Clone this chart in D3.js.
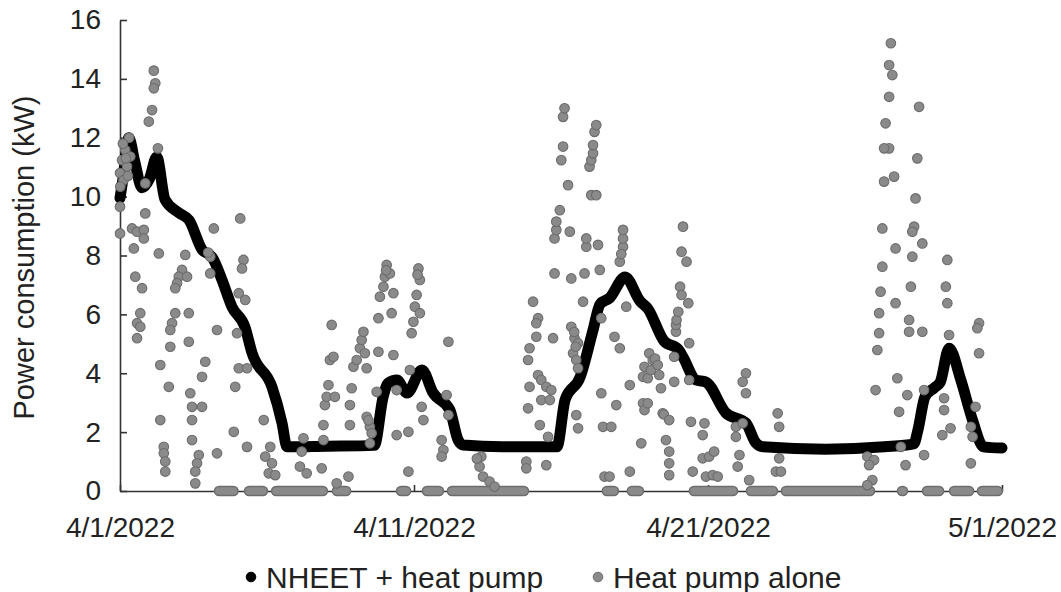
<!DOCTYPE html>
<html>
<head>
<meta charset="utf-8">
<script src="https://cdn.jsdelivr.net/npm/d3@7"></script>
<style>
  body { margin: 0; background: #fff; }
  text { font-family: "Liberation Sans", Arial, sans-serif; fill: #222; }
</style>
</head>
<body>
<svg id="chart" width="1061" height="592"></svg>
<script>
// ---- data -------------------------------------------------------------
// x values are days elapsed since 4/1/2022 00:00, y values are kW
const xTickDays = [0, 10, 20, 30];
const xTickLabels = ["4/1/2022", "4/11/2022", "4/21/2022", "5/1/2022"];
const yTicks = [0, 2, 4, 6, 8, 10, 12, 14, 16];
const seriesNames = ["NHEET + heat pump", "Heat pump alone"];

// NHEET + heat pump (dense hourly trace)
const nheetDay = [0, 0.1, 0.3, 0.5, 0.75, 1.0, 1.25, 1.53, 2.0, 2.35, 2.79, 3.13, 3.47, 3.81, 4.25, 4.49,
  5.17, 5.51, 5.68, 7.0, 8.65, 8.95, 9.12, 9.42, 9.76, 10.27, 10.65, 11.22, 11.5, 11.67, 13.0, 14.86,
  15.14, 15.65, 16.09, 16.33, 16.65, 17.18, 17.69, 17.95, 18.5, 19.0, 19.15, 19.59, 19.93, 20.61, 21.29,
  21.63, 21.87, 24.0, 26.0, 27.0, 27.14, 27.38, 27.69, 27.9, 28.2, 28.6, 29.0, 29.37, 30.0];
const nheetKW = [9.95, 10.6, 12.0, 11.2, 10.3, 10.6, 11.35, 9.9, 9.45, 9.2, 8.2, 7.95, 7.17, 6.25, 5.57, 4.69,
  3.53, 2.31, 1.5, 1.52, 1.55, 3.2, 3.67, 3.77, 3.33, 4.11, 3.33, 2.75, 1.73, 1.56, 1.5, 1.5,
  3.1, 3.87, 5.47, 6.35, 6.55, 7.27, 6.45, 6.2, 5.1, 4.8, 4.55, 3.77, 3.7, 2.65, 2.31,
  1.63, 1.5, 1.42, 1.5, 1.6, 2.07, 3.2, 3.5, 3.7, 4.85, 3.77, 2.4, 1.5, 1.46];

// Heat pump alone: hourly readings above zero [day, kW]
const pumpReadings = [
  [1.15,14.28],[1.2,13.85],[1.15,13.68],[1.09,12.94],[0.98,12.55],[1.29,11.64],[0.31,12.0],[0.18,11.58],
  [0.07,11.24],[0.24,11.02],[0.0,10.8],[0.35,11.36],[0.12,10.56],[0.01,10.34],[0.0,9.66],[0.1,11.8],
  [0.2,11.3],[0.27,10.7],[0.86,10.45],[0.86,9.43],[0.0,8.75],[0.41,8.92],[0.58,8.81],[0.81,8.87],
  [0.81,8.58],[0.47,8.24],[1.32,8.07],[0.52,7.28],[0.75,6.89],[0.69,6.04],[0.58,5.7],[0.69,5.58],
  [0.58,5.19],[1.37,4.28],[1.66,3.54],[1.37,2.41],[1.49,1.5],[1.49,1.28],[1.54,1.0],[1.54,0.66],
  [2.22,8.02],[2.11,7.51],[2.0,7.28],[1.94,7.06],[1.88,6.89],[2.28,7.28],[1.88,6.04],[1.77,5.7],
  [1.71,5.47],[2.34,6.04],[2.34,5.07],[1.71,4.9],[2.39,3.32],[2.45,2.86],[2.79,2.86],[2.45,2.41],
  [2.9,4.39],[2.79,3.88],[2.45,1.73],[2.68,1.22],[2.62,0.94],[2.56,0.66],[2.56,0.26],
  [3.19,8.92],[3.07,7.96],[3.07,7.39],[3.0,8.1],[3.3,5.47],[3.3,1.28],
  [4.09,9.26],[4.2,7.85],[4.15,7.56],[4.04,6.72],[4.26,6.49],[3.98,5.36],[4.04,4.17],[4.32,4.17],
  [3.92,3.54],[3.87,2.01],[4.32,1.5],[4.89,2.41],[5.11,1.5],[4.94,1.17],[5.17,0.94],[5.06,0.6],[5.28,0.54],
  [6.24,1.79],[6.18,1.34],[6.12,0.83],[6.35,0.6],[6.86,0.77],[6.92,1.73],[6.92,2.24],[6.97,2.92],
  [7.03,3.2],[7.31,3.2],[7.09,3.6],[7.14,4.45],[7.26,4.56],[7.2,5.64],[7.37,0.26],[7.77,0.49],
  [7.82,2.24],[7.82,2.92],[7.88,3.49],[7.94,4.22],[8.05,4.45],[8.16,4.85],[8.22,5.13],[8.28,5.41],
  [8.33,4.68],[8.39,4.17],[8.39,2.52],[8.5,2.18],[8.56,1.96],[8.5,1.62],[8.45,2.4],[8.73,3.37],
  [8.79,4.73],[8.79,5.87],[8.84,6.6],[8.96,6.94],[9.01,7.28],[9.07,7.68],[9.18,7.39],[9.05,7.5],
  [9.3,6.72],[9.24,6.04],[9.3,4.62],[9.41,3.43],[9.41,1.9],[9.81,2.01],[9.81,0.66],[9.86,4.11],
  [9.92,5.36],[9.98,5.75],[10.03,6.26],[10.2,6.04],[10.09,6.66],[10.2,7.17],[10.15,7.56],[10.12,7.35],
  [10.26,2.86],[10.32,2.41],[11.17,5.07],[11.11,3.26],[11.17,2.58],[10.94,1.73],[11.0,1.39],[10.94,1.17],
  [12.29,1.17],[12.23,0.83],[12.35,0.49],[12.57,0.32],[12.74,0.15],[12.14,1.1],
  [13.82,1.0],[13.82,0.77],[13.88,2.81],[13.93,3.54],[13.88,4.45],[13.93,4.85],[14.05,6.43],[14.22,5.87],
  [14.16,5.7],[14.16,5.24],[14.73,5.19],[14.22,3.94],[14.33,3.77],[14.5,3.54],[14.67,3.43],[14.33,3.09],
  [14.62,3.09],[14.28,2.24],[14.56,1.84],[14.5,0.88],[14.78,7.39],[14.78,8.58],[14.84,8.87],[14.84,9.15],
  [14.96,9.54],[15.01,11.24],[15.07,11.7],[15.07,12.71],[15.12,13.0],[15.24,10.39],[15.3,8.81],[15.35,7.22],
  [15.35,5.58],[15.46,5.19],[15.58,5.02],[15.41,4.68],[15.52,4.45],[15.58,4.17],[15.5,4.9],[15.45,5.4],
  [15.52,2.58],[15.58,2.13],[15.75,6.43],[15.8,7.39],[15.86,8.3],[15.86,8.58],[15.97,11.02],[16.03,11.24],
  [16.09,11.47],[16.09,11.75],[16.14,12.2],[16.2,12.43],[16.03,10.05],[16.2,10.05],[16.26,8.36],[16.32,7.51],
  [16.37,5.87],[16.37,3.32],[16.43,2.18],[16.71,2.18],[16.48,0.49],[16.65,0.49],[16.88,2.92],[16.82,5.24],
  [17.0,4.85],[17.0,7.79],[17.11,8.3],[17.11,8.58],[17.11,8.87],[17.05,8.05],[17.22,6.26],[17.34,3.6],
  [17.34,0.66],[17.84,4.22],[17.79,3.88],[17.79,2.98],[17.84,2.75],[17.73,1.62],
  [17.95,3.83],[17.95,2.98],[18.0,4.68],[18.06,4.11],[18.12,4.45],[18.2,4.5],[18.29,4.28],[18.34,3.94],
  [18.4,3.49],[18.46,2.64],[18.5,2.6],[18.57,1.73],[18.68,2.41],[18.68,1.34],[18.68,0.94],[18.68,0.54],
  [18.85,4.56],[18.85,3.71],[18.91,5.41],[18.91,5.64],[18.93,5.81],[18.99,6.09],[19.05,6.94],[19.1,6.66],
  [19.1,8.13],[19.15,8.98],[19.27,7.79],[19.33,6.38],[19.36,5.02],[19.36,3.77],[19.42,2.35],[19.48,0.66],
  [19.82,1.9],[19.88,2.3],[19.82,1.11],[20.04,1.17],[20.21,1.34],[19.93,0.49],[20.16,0.54],[20.33,0.49],
  [20.95,2.18],[20.95,1.84],[21.18,2.3],[21.07,1.22],[21.01,0.83],[21.4,0.37],[21.29,4.0],[21.18,3.71],
  [21.29,3.32],[22.37,2.64],[22.42,2.18],[22.42,1.11],[22.31,0.66],[22.48,0.66],
  [25.42,1.17],[25.65,1.05],[25.48,0.88],[25.59,0.37],[25.42,0.2],
  [26.22,15.21],[26.16,14.47],[26.27,14.13],[26.16,13.39],[27.18,13.05],[26.04,12.49],[26.16,11.64],
  [25.99,11.64],[27.12,11.3],[26.33,10.68],[25.99,10.51],[27.06,9.94],[25.93,8.92],[27.01,8.98],
  [26.95,8.81],[27.29,8.41],[26.38,8.24],[26.95,7.96],[28.14,7.85],[25.93,7.62],[26.9,6.94],[28.09,6.94],
  [25.87,6.77],[26.38,6.38],[28.14,6.38],[25.82,6.04],[26.84,5.81],[26.84,5.41],[27.29,5.41],[29.22,5.7],
  [29.16,5.53],[25.82,5.36],[28.2,5.3],[25.76,4.79],[29.22,4.68],[26.44,3.83],[25.7,3.43],[27.35,3.43],
  [26.78,3.26],[28.03,3.15],[26.5,2.69],[28.03,2.75],[29.1,2.86],[28.25,2.13],[27.97,1.9],[28.94,2.18],
  [29.0,1.84],[26.56,1.5],[27.35,1.22],[26.72,0.88],[28.94,0.94]
];

// Heat pump alone: stretches where every hourly reading is 0 kW [fromDay, toDay]
const pumpOffRuns = [
  [3.37, 3.86], [4.39, 4.86], [5.31, 6.9], [7.38, 7.69], [9.56, 9.73], [10.44, 10.85],
  [11.29, 13.74], [16.56, 16.8], [17.41, 17.65], [19.52, 20.85], [21.46, 22.21],
  [22.65, 25.51], [26.6, 26.63], [27.45, 27.86], [28.37, 28.88], [29.32, 29.86]
];

// ---- layout -----------------------------------------------------------
const svg = d3.select("#chart");
const plot = { left: 120, right: 1002, top: 20, bottom: 491 };
const fontSize = 28;
const legendFontSize = 30;
const pumpGray = "#8a8a8a", pumpEdge = "#6c6c6c";
const dotR = 4.8;

const dayMs = 864e5;
const t0 = Date.UTC(2022, 3, 1);
const toDate = d => new Date(t0 + d * dayMs);

const x = d3.scaleUtc()
  .domain([toDate(0), toDate(30)])
  .range([plot.left, plot.right]);
const y = d3.scaleLinear()
  .domain([0, 16])
  .range([plot.bottom, plot.top]);

// ---- axes -------------------------------------------------------------
const yAxis = svg.append("g")
  .attr("transform", `translate(${plot.left},0)`)
  .call(d3.axisLeft(y).tickValues(yTicks).tickSizeInner(-7).tickSizeOuter(0).tickPadding(19)
    .tickFormat(d3.format("d")));
const xAxis = svg.append("g")
  .attr("transform", `translate(0,${plot.bottom})`)
  .call(d3.axisBottom(x).tickValues(xTickDays.map(toDate)).tickSizeInner(-6).tickSizeOuter(0)
    .tickPadding(26).tickFormat((d, i) => xTickLabels[i]));

[yAxis, xAxis].forEach(g => {
  g.selectAll(".domain").attr("stroke", "#333").attr("stroke-width", 1.6);
  g.selectAll(".tick line").attr("stroke", "#333").attr("stroke-width", 1.6);
  g.selectAll("text").attr("font-size", fontSize).attr("fill", "#222")
    .attr("font-family", "'Liberation Sans', Arial, sans-serif");
});

svg.append("text")
  .attr("transform", `translate(34,${(plot.top + plot.bottom) / 2 + 2}) rotate(-90)`)
  .attr("text-anchor", "middle")
  .attr("font-size", 29)
  .text("Power consumption (kW)");

// ---- NHEET + heat pump trace -----------------------------------------
const nheet = nheetDay.map((d, i) => [toDate(d), nheetKW[i]]);
svg.append("path")
  .datum(nheet)
  .attr("fill", "none")
  .attr("stroke", "#000")
  .attr("stroke-width", 11)
  .attr("stroke-linejoin", "round")
  .attr("stroke-linecap", "round")
  .attr("d", d3.line().curve(d3.curveMonotoneX).x(d => x(d[0])).y(d => y(d[1])));

// ---- Heat pump alone --------------------------------------------------
const pump = svg.append("g");
pump.selectAll("line.off")
  .data(pumpOffRuns)
  .join("line")
  .attr("class", "off")
  .attr("x1", d => x(toDate(d[0])))
  .attr("x2", d => x(toDate(d[1])))
  .attr("y1", y(0)).attr("y2", y(0))
  .attr("stroke", pumpEdge)
  .attr("stroke-width", dotR * 2 + 1)
  .attr("stroke-linecap", "round");
pump.selectAll("line.offfill")
  .data(pumpOffRuns)
  .join("line")
  .attr("class", "offfill")
  .attr("x1", d => x(toDate(d[0])))
  .attr("x2", d => x(toDate(d[1])))
  .attr("y1", y(0)).attr("y2", y(0))
  .attr("stroke", pumpGray)
  .attr("stroke-width", dotR * 2 - 2)
  .attr("stroke-linecap", "round");
pump.selectAll("circle")
  .data(pumpReadings)
  .join("circle")
  .attr("cx", d => x(toDate(d[0])))
  .attr("cy", d => y(d[1]))
  .attr("r", dotR)
  .attr("fill", pumpGray)
  .attr("stroke", pumpEdge)
  .attr("stroke-width", 1.1);

// ---- legend -----------------------------------------------------------
const legendY = 577;
const legendItems = [
  { name: seriesNames[0], x: 251, fill: "#000", stroke: "#000" },
  { name: seriesNames[1], x: 598, fill: pumpGray, stroke: pumpEdge }
];
const lg = svg.append("g").selectAll("g").data(legendItems).join("g")
  .attr("transform", d => `translate(${d.x},${legendY})`);
lg.append("circle").attr("r", 4.8).attr("fill", d => d.fill).attr("stroke", d => d.stroke);
lg.append("text")
  .attr("x", 15).attr("dy", "0.35em")
  .attr("font-size", legendFontSize)
  .text(d => d.name);
</script>
</body>
</html>
